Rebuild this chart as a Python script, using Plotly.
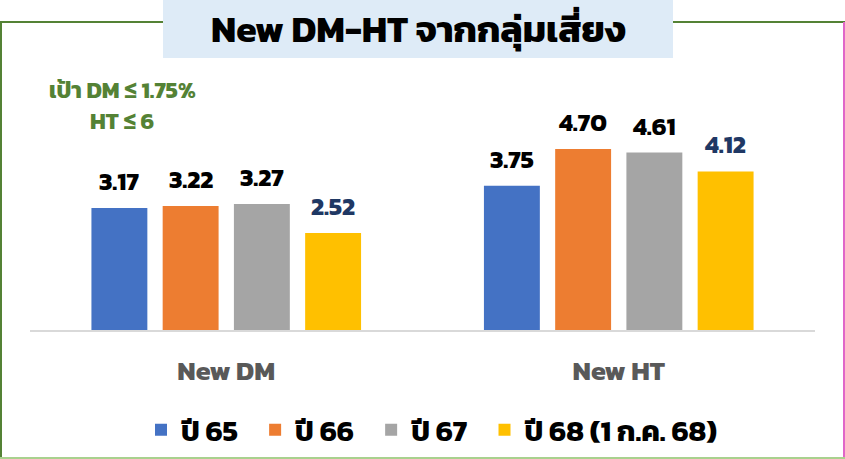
import plotly.graph_objects as go

# Data
categories = ["New DM", "New HT"]
series_names = ["ปี 65", "ปี 66", "ปี 67", "ปี 68 (1 ก.ค. 68)"]
series_values = [
    [3.17, 3.75],
    [3.22, 4.70],
    [3.27, 4.61],
    [2.52, 4.12],
]
series_colors = ["#4472C4", "#ED7D31", "#A5A5A5", "#FFC000"]
label_colors = ["#000000", "#000000", "#000000", "#1F3864"]

title_text = "New DM-HT จากกลุ่มเสี่ยง"
target_lines = ["เป้า DM ≤ 1.75%", "HT ≤ 6"]

FONT = "Kanit, Prompt, 'Noto Sans Thai', 'Noto Sans', sans-serif"

# plot area geometry (px)
W, H = 845, 459
PL, PR, PT, PB = 30, 30, 99, 129
PW, PH = W - PL - PR, H - PT - PB
SLOT_PX = 71.3  # distance between neighbouring bars within a group
NBSP = "\u00a0"


def px_x(x):
    return (x - PL) / PW


def px_y(y):
    return (H - PB - y) / PH


fig = go.Figure()
n = len(series_names)
for i, (name, vals, col, lcol) in enumerate(zip(series_names, series_values, series_colors, label_colors)):
    # a little extra room after each legend entry except the last
    legend_name = name + (NBSP * 2 if i < n - 1 else "")
    fig.add_trace(go.Bar(
        x=categories, y=vals, name=legend_name,
        marker=dict(color=col, line=dict(width=0)),
    ))
    # value labels above each bar
    for cat, v in zip(categories, vals):
        fig.add_annotation(
            x=cat, y=v, xref="x", yref="y",
            text=f"<b>{v:.2f}</b>", showarrow=False,
            xshift=(i - 1.5) * SLOT_PX, yshift=27,
            xanchor="center", yanchor="middle",
            font=dict(family=FONT, size=25, color=lcol),
        )

fig.update_layout(
    width=W, height=H,
    margin=dict(l=PL, r=PR, t=PT, b=PB, autoexpand=False),
    paper_bgcolor="white", plot_bgcolor="white",
    barmode="group", bargap=0.274, bargroupgap=0.215,
    font=dict(family=FONT),
    showlegend=True,
    legend=dict(
        orientation="h", x=px_x(432), xanchor="center",
        yref="container", y=1 - 430 / H, yanchor="middle",
        font=dict(family=FONT, size=29, color="#000000", weight="bold"),
        itemwidth=30, tracegroupgap=0,
    ),
    xaxis=dict(
        showgrid=False, showline=True, linecolor="#D9D9D9", linewidth=2,
        ticks="", ticklabelstandoff=16,
        tickfont=dict(family=FONT, size=27, color="#595959", weight="bold"),
    ),
    yaxis=dict(range=[0, 6], visible=False, showgrid=False),
)

# Outer frame
fig.add_shape(type="line", xref="paper", yref="paper", x0=px_x(0), x1=px_x(845),
              y0=px_y(22), y1=px_y(22), line=dict(color="#548235", width=2))
fig.add_shape(type="line", xref="paper", yref="paper", x0=px_x(1), x1=px_x(1),
              y0=px_y(22), y1=px_y(458), line=dict(color="#548235", width=2))
fig.add_shape(type="line", xref="paper", yref="paper", x0=px_x(844), x1=px_x(844),
              y0=px_y(22), y1=px_y(459), line=dict(color="#E066C8", width=2))
fig.add_shape(type="line", xref="paper", yref="paper", x0=px_x(0), x1=px_x(845),
              y0=px_y(458), y1=px_y(458), line=dict(color="#A9D18E", width=2))

# Title box
fig.add_shape(type="rect", xref="paper", yref="paper",
              x0=px_x(163), x1=px_x(673), y0=px_y(58), y1=px_y(-1),
              fillcolor="#DEEBF7", line=dict(width=0), layer="above")
fig.add_annotation(xref="paper", yref="paper", x=px_x(418), y=px_y(29),
                   text=f"<b>{title_text}</b>", showarrow=False,
                   font=dict(family=FONT, size=37, color="#000000"),
                   xanchor="center", yanchor="middle")

# Target note (two lines)
for line_text, ypx in zip(target_lines, [90, 121]):
    fig.add_annotation(xref="paper", yref="paper", x=px_x(122), y=px_y(ypx),
                       text=f"<b>{line_text}</b>", showarrow=False,
                       font=dict(family=FONT, size=23, color="#548235"),
                       xanchor="center", yanchor="middle")

fig.write_html("out.html")
